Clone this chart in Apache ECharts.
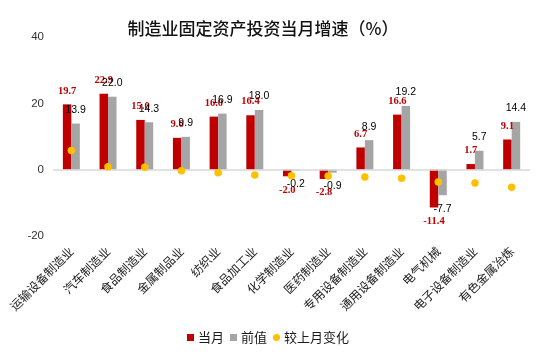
<!DOCTYPE html>
<html>
<head>
<meta charset="utf-8">
<script src="https://cdn.jsdelivr.net/npm/echarts@6/dist/echarts.min.js"></script>
<style>
html,body{margin:0;padding:0;background:#fff;}
#chart{width:536px;height:357px;}
</style>
</head>
<body>
<div id="chart"></div>
<script>
const categories = ['运输设备制造业','汽车制造业','食品制造业','金属制品业','纺织业','食品加工业','化学制造业','医药制造业','专用设备制造业','通用设备制造业','电气机械','电子设备制造业','有色金属冶炼'];
const currentMonth = [19.7, 22.9, 15.0, 9.6, 16.0, 16.4, -2.0, -2.8, 6.7, 16.6, -11.4, 1.7, 9.1];
const previousValue = [13.9, 22.0, 14.3, 9.9, 16.9, 18.0, -0.2, -0.9, 8.9, 19.2, -7.7, 5.7, 14.4];
const changeFromLastMonth = [5.8, 0.9, 0.7, -0.3, -0.9, -1.6, -1.8, -1.9, -2.2, -2.6, -3.7, -4.0, -5.3];
const yTicks = [-20, 0, 20, 40];

const CJK = '"Noto Sans CJK SC", sans-serif';
const NARROW = '"Liberation Sans Narrow", "Liberation Sans", sans-serif';

function withLabelSide(values) {
  return values.map(v => ({ value: v, label: { position: v < 0 ? 'bottom' : 'top' } }));
}

const chart = echarts.init(document.getElementById('chart'), null, { renderer: 'canvas' });
chart.setOption({
  animation: false,
  title: {
    text: '制造业固定资产投资当月增速（%）',
    left: 258,
    textAlign: 'center',
    top: 15,
    textStyle: { fontFamily: CJK, fontSize: 17, fontWeight: 500, color: '#111' }
  },
  legend: {
    left: 'center',
    top: 326,
    itemWidth: 7,
    itemHeight: 7,
    itemGap: 6,
    textStyle: { fontFamily: CJK, fontSize: 13, color: '#1a1a1a', padding: [0, 0, 0, -1] },
    data: [
      { name: '当月', icon: 'rect' },
      { name: '前值', icon: 'rect' },
      { name: '较上月变化', icon: 'circle' }
    ]
  },
  grid: { left: 53, right: 6, top: 37, bottom: 121 },
  xAxis: {
    type: 'category',
    data: categories,
    axisLine: { show: false },
    axisTick: { show: false },
    axisLabel: {
      interval: 0,
      rotate: 45,
      margin: 13,
      fontFamily: CJK,
      fontSize: 12,
      color: '#1a1a1a'
    }
  },
  yAxis: {
    type: 'value',
    min: yTicks[0],
    max: yTicks[yTicks.length - 1],
    interval: 20,
    axisLine: { show: false },
    axisTick: { show: false },
    splitLine: { show: false },
    axisLabel: { fontFamily: NARROW, fontSize: 11.5, color: '#333', margin: 9 }
  },
  series: [
    {
      name: '当月',
      type: 'bar',
      data: withLabelSide(currentMonth),
      barWidth: 8.5,
      barGap: '0%',
      itemStyle: { color: '#C00000' },
      label: {
        show: true,
        distance: 8,
        fontFamily: '"Liberation Serif", serif',
        fontWeight: 'bold',
        fontSize: 10.5,
        color: '#C00000',
        formatter: p => p.value.toFixed(1)
      },
      markLine: {
        silent: true,
        symbol: 'none',
        label: { show: false },
        lineStyle: { color: '#d9d9d9', width: 1.5, type: 'solid' },
        data: [{ yAxis: 0 }]
      }
    },
    {
      name: '前值',
      type: 'bar',
      data: withLabelSide(previousValue),
      barWidth: 8.5,
      barGap: '0%',
      itemStyle: { color: '#A5A5A5' },
      label: {
        show: true,
        distance: 8,
        fontFamily: NARROW,
        fontSize: 10.5,
        color: '#000',
        formatter: p => p.value.toFixed(1)
      }
    },
    {
      name: '较上月变化',
      type: 'scatter',
      data: changeFromLastMonth,
      symbolSize: 7.5,
      itemStyle: { color: '#FFC000', opacity: 1 },
      z: 5
    }
  ]
});
</script>
</body>
</html>
